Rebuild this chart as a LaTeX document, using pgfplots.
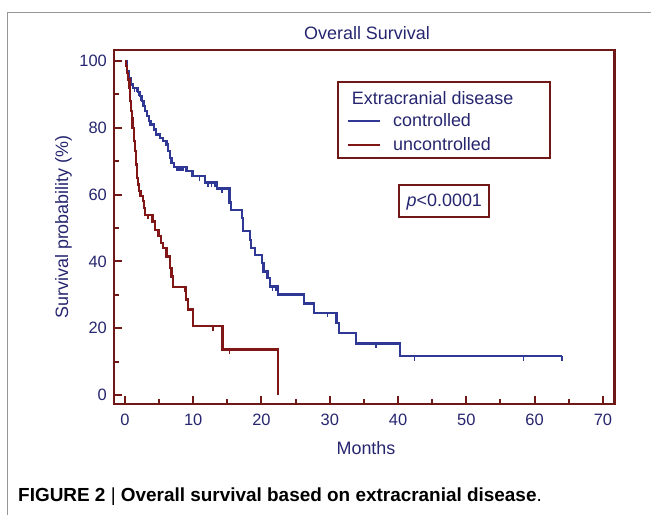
\documentclass[border=0pt]{standalone}
\usepackage{fontspec}
\setmainfont{Liberation Sans}
\usepackage{pgfplots}
\pgfplotsset{compat=1.18}
\usepackage{pgfplotstable}
\definecolor{frame}{RGB}{112,24,24}
\definecolor{redc}{RGB}{128,22,22}
\definecolor{bluec}{RGB}{48,56,150}
\definecolor{navy}{RGB}{38,38,112}
\definecolor{graybox}{RGB}{150,150,150}
\pgfdeclareplotmark{cdown}{\pgfpathmoveto{\pgfpointorigin}\pgfpathlineto{\pgfpoint{0pt}{-4.5bp}}\pgfusepathqstroke}

\pgfplotstableread{
t s
0 100
0.35 97
0.6 95
0.85 93
1.2 92
1.9 90.8
2.2 89.5
2.5 88
2.7 86.5
2.95 85
3.2 83.5
3.5 82
3.8 81
4.3 79.5
4.6 78
5.1 77
5.6 76
6.1 75
6.3 73
6.55 71
6.8 69.5
7.2 68.3
9.0 67.0
9.9 65.5
11.7 63.6
13.5 61.8
15.3 57.6
15.5 55.4
17.1 52.9
17.3 49.0
18.3 46.5
18.5 44.0
19.0 42.0
20.1 39.5
20.3 37.0
20.9 35.0
21.2 32.5
22.4 30.1
26.2 27.4
27.7 24.6
31.0 21.6
31.3 18.6
33.8 15.4
40.3 11.6
64.0 11.6
}\controlled

\pgfplotstableread{
t s
0 100
0.15 98.5
0.3 96.5
0.5 94.5
0.65 92
0.75 88
0.85 85
1.0 83
1.1 80
1.3 76
1.5 73
1.65 69
1.8 65
1.95 63
2.1 61
2.3 59.5
2.6 58
2.75 56
2.9 53.9
4.05 51.9
4.4 49.5
4.9 47.5
5.3 45.5
5.6 44.0
6.1 41.5
6.6 38.0
6.8 35.5
7.0 32.3
8.9 28.6
9.2 25.6
10.0 20.6
14.3 13.6
22.45 0
}\uncontrolled

\pgfplotstableread{
t s
1.4 92
1.7 92
2.05 90.8
2.35 89.5
3.65 82
7.6 68.3
7.9 68.3
8.2 68.3
8.5 68.3
10.9 65.5
12.2 63.6
12.7 63.6
13.2 63.6
14.2 61.8
17.2 52.9
21.6 32.5
22.1 32.5
29.7 24.6
36.8 15.4
42.4 11.6
58.4 11.6
64.0 11.6
}\ccens

\pgfplotstableread{
t s
3.4 53.9
3.9 53.9
6.7 38.0
8.8 32.3
12.9 20.6
15.3 13.6
}\ucens

\begin{document}
\begin{tikzpicture}
\begin{scope}[x=1bp,y=1bp]
\path[use as bounding box] (0,0) rectangle (651,515);
\draw[graybox, line width=0.9bp] (7,0) -- (7,503) -- (651,503);
\end{scope}
\begin{axis}[
  at={(114bp,111bp)}, anchor=south west,
  scale only axis, width=500.5bp, height=354bp,
  xmin=-1.6, xmax=71.7, ymin=-2.7, ymax=103.3,
  xtick={0,10,...,70}, ytick={0,20,...,100},
  minor x tick num=1, minor y tick num=1,
  tick pos=left, tick align=inside,
  major tick length=8bp, minor tick length=4.5bp,
  every tick/.style={line width=2bp, color=frame},
  axis line style={line width=2.6bp, color=frame},
  /pgf/number format/assume math mode=true,
  ticklabel style={font=\fontsize{16.5}{18}\selectfont, text=navy},
  xticklabel style={inner sep=0pt, yshift=-10bp},
  yticklabel style={inner sep=0pt, xshift=-7bp},
  clip=false,
]
\addplot[const plot, color=bluec, line width=2.3bp] table[x=t,y=s] {\controlled};
\addplot[const plot, color=redc, line width=2.3bp] table[x=t,y=s] {\uncontrolled};
\addplot[only marks, mark=cdown, color=bluec, mark options={line width=1.5bp}] table[x=t,y=s] {\ccens};
\addplot[only marks, mark=cdown, color=redc, mark options={line width=1.5bp}] table[x=t,y=s] {\ucens};
\end{axis}
\begin{scope}[x=1bp,y=1bp]
% title and labels
\node[text=navy, font=\fontsize{18}{20}\selectfont] at (367,482) {Overall Survival};
\node[text=navy, font=\fontsize{18}{20}\selectfont] at (366,67) {Months};
\node[text=navy, font=\fontsize{18}{20}\selectfont, rotate=90] at (63.5,288) {Survival probability (\%)};
% legend
\draw[frame, line width=2.2bp] (338.3,357.3) rectangle (550,432.7);
\node[anchor=base west, inner sep=0pt, text=navy, font=\fontsize{18}{20}\selectfont] at (351.7,410) {Extracranial disease};
\draw[bluec, line width=2.3bp] (348,394) -- (380,394);
\node[anchor=base west, inner sep=0pt, text=navy, font=\fontsize{18}{20}\selectfont] at (393,388) {controlled};
\draw[redc, line width=2.3bp] (348,370) -- (380,370);
\node[anchor=base west, inner sep=0pt, text=navy, font=\fontsize{18}{20}\selectfont] at (393,364) {uncontrolled};
% p value
\draw[frame, line width=2.2bp] (399.3,298.3) rectangle (489.3,330);
\node[anchor=base, inner sep=0pt, text=navy, font=\fontsize{18}{20}\selectfont] at (444.3,308) {\textit{p}<0.0001};
% caption
\node[anchor=base west, inner sep=0pt, font=\fontsize{19}{21}\selectfont] at (18,13) {\textbf{FIGURE 2} | \textbf{Overall survival based on extracranial disease}.};
\end{scope}
\end{tikzpicture}
\end{document}
